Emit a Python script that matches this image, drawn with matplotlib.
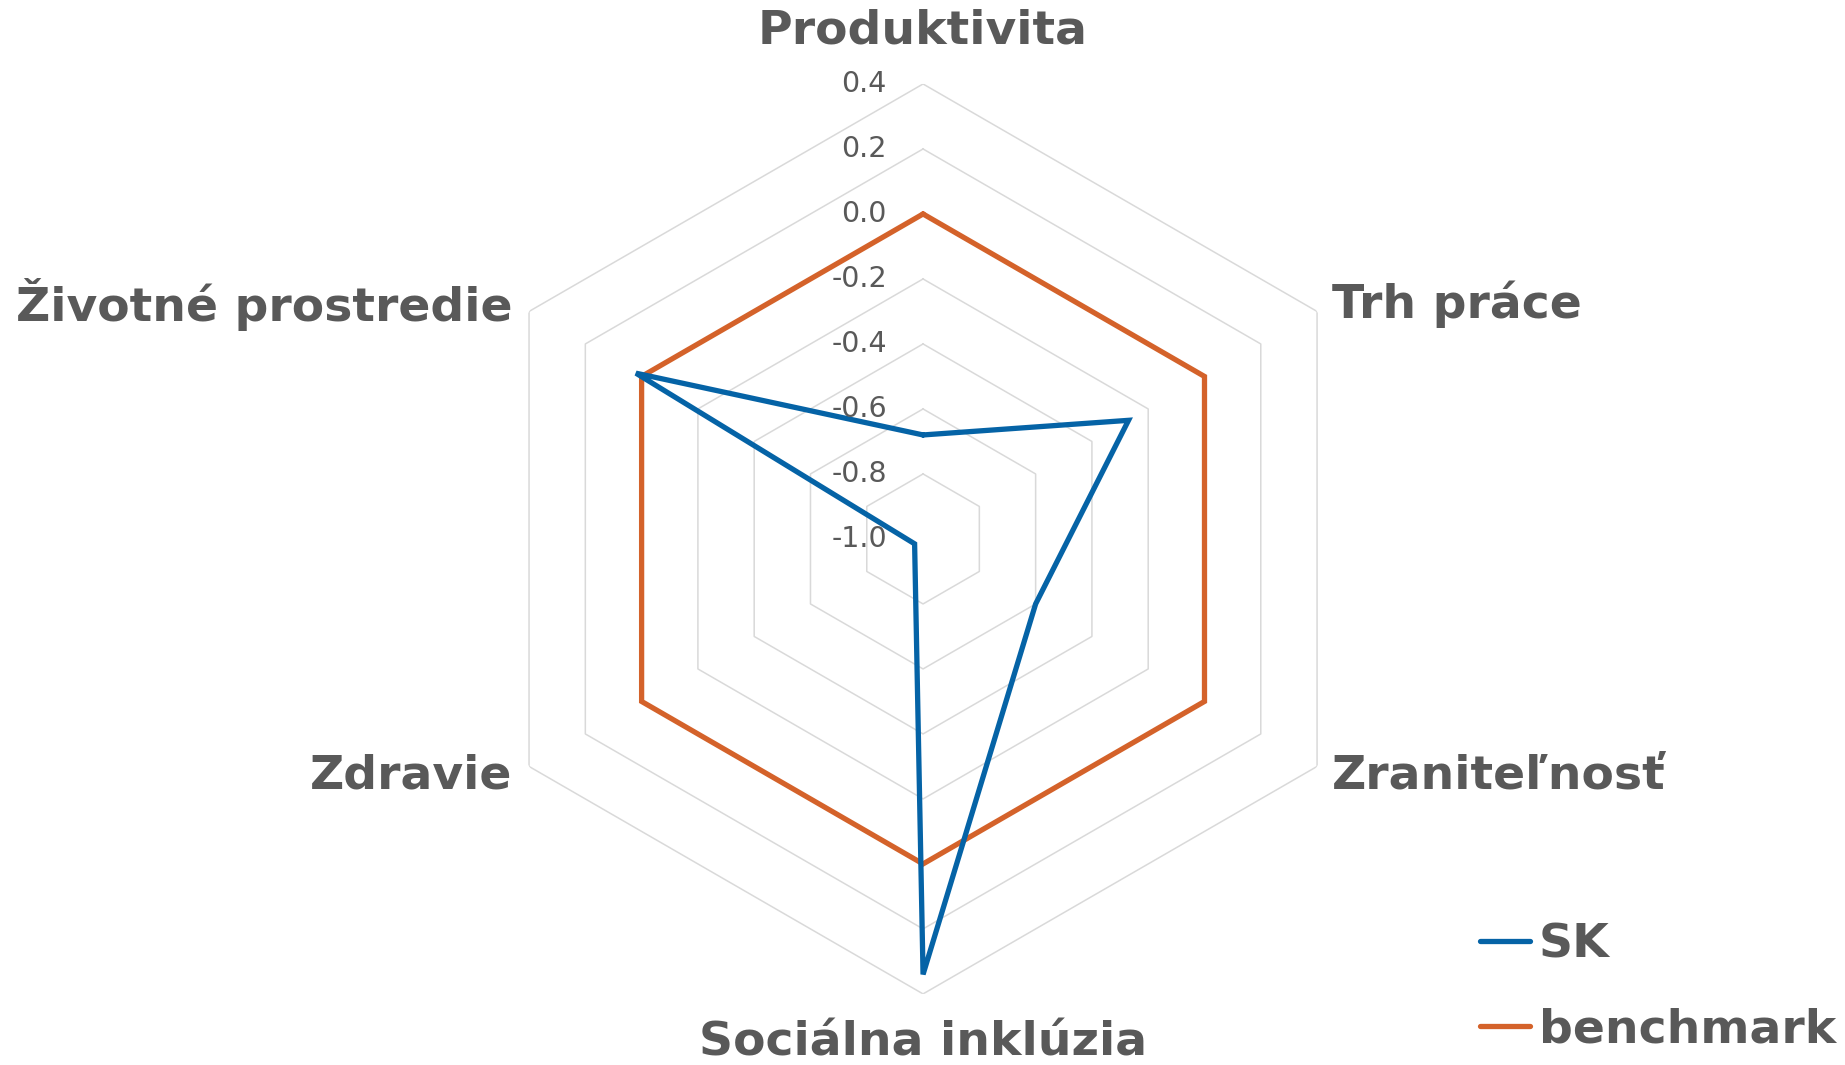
import matplotlib
matplotlib.use('Agg')
import matplotlib.pyplot as plt
import numpy as np

categories = ['Produktivita', 'Trh práce', 'Zraniteľnosť',
              'Sociálna inklúzia', 'Zdravie', 'Životné prostredie']
sk = [-0.68, -0.27, -0.60, 0.34, -0.97, 0.02]
benchmark = [0.0, 0.0, 0.0, 0.0, 0.0, 0.0]
levels = [-0.8, -0.6, -0.4, -0.2, 0.0, 0.2, 0.4]
tick_labels = ['-1.0', '-0.8', '-0.6', '-0.4', '-0.2', '0.0', '0.2', '0.4']
tick_values = [-1.0, -0.8, -0.6, -0.4, -0.2, 0.0, 0.2, 0.4]

txt = '#595959'
blue = '#0563a6'
orange = '#d4622a'

fig = plt.figure(figsize=(18.45, 10.65), dpi=100)
ax = fig.add_axes([0.2537, 0.0667, 0.4932, 0.8545], projection='polar')
ax.set_theta_zero_location('N')
ax.set_theta_direction(-1)
ax.set_ylim(-1.0, 0.4)
ax.grid(False)
ax.set_xticks([])
ax.set_yticks([])
ax.spines['polar'].set_visible(False)
ax.patch.set_alpha(0)

theta = np.deg2rad(np.arange(len(categories)) * 60)
closed = np.append(theta, theta[0])

# hexagon grid
for lv in levels:
    ax.plot(closed, [lv] * len(closed), color='#d9d9d9', lw=1.1, zorder=1)

def closeit(v):
    return list(v) + [v[0]]

ax.plot(closed, closeit(benchmark), color=orange, lw=3.8,
        solid_joinstyle='miter', solid_capstyle='round', zorder=3, label='benchmark')
ax.plot(closed, closeit(sk), color=blue, lw=3.8,
        solid_joinstyle='miter', solid_capstyle='round', zorder=4, label='SK')

# value labels along the top axis
for v, lab in zip(tick_values, tick_labels):
    ax.annotate(lab, xy=(0, v), xytext=(-26, 0), textcoords='offset points',
                ha='right', va='center', fontsize=20.5, color=txt, zorder=5,
                annotation_clip=False)

# category labels
offsets = [(0, 38, 'center'), (11, 5, 'left'), (11, -7, 'left'),
           (0, -35, 'center'), (-12, -7, 'right'), (-12, 5, 'right')]
for t, name, (dx, dy, ha) in zip(theta, categories, offsets):
    ax.annotate(name, xy=(t, 0.4), xytext=(dx, dy), textcoords='offset points',
                ha=ha, va='center', fontsize=34, fontweight='bold', color=txt,
                annotation_clip=False)

h, l = ax.get_legend_handles_labels()
leg = fig.legend(h[::-1], l[::-1], loc='center left', bbox_to_anchor=(0.802, 0.073),
                 frameon=False, fontsize=34, handlelength=1.07, handletextpad=0.18,
                 labelspacing=0.85, borderpad=0, borderaxespad=0)
for t in leg.get_texts():
    t.set_color(txt)
    t.set_fontweight('bold')

fig.savefig('out.png', dpi=100)
